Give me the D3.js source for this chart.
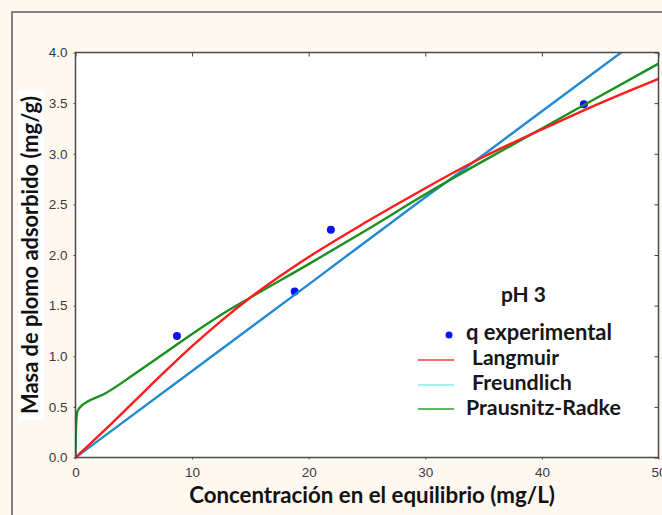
<!DOCTYPE html>
<html><head><meta charset="utf-8">
<script src="https://cdn.jsdelivr.net/npm/d3@7"></script>
<style>html,body{margin:0;padding:0;background:#fef8f0;}svg{display:block;}</style>
</head><body>
<svg id="chart" width="662" height="515"></svg>
<script>
// ---- data ----
const xTicks = [0, 10, 20, 30, 40, 50];
const yTicks = [0.0, 0.5, 1.0, 1.5, 2.0, 2.5, 3.0, 3.5, 4.0];
const expC = [8.7, 18.8, 21.9, 43.6];
const expQ = [1.20, 1.64, 2.25, 3.49];
const langC = [0, 2.5, 5, 7.5, 10, 12.5, 15, 20, 25, 30, 35, 40, 45, 50];
const langQ = [0, 0.27, 0.55, 0.83, 1.10, 1.35, 1.58, 1.98, 2.33, 2.66, 2.97, 3.24, 3.50, 3.74];
const freuC = [0, 10, 20, 30, 35, 40, 47.5];
const freuQ = [0, 0.855, 1.71, 2.57, 2.99, 3.42, 4.06];
const prC = [0, 0.05, 0.15, 0.5, 1, 2.5, 5, 7.5, 10, 12.5, 15, 20, 25, 30, 35, 40, 45, 50];
const prQ = [0, 0.30, 0.45, 0.51, 0.55, 0.63, 0.82, 1.02, 1.22, 1.41, 1.58, 1.91, 2.25, 2.60, 2.93, 3.25, 3.57, 3.89];
const legendLabels = ["q experimental", "Langmuir", "Freundlich", "Prausnitz-Radke"];
const legendTitle = "pH 3";
const xTitle = "Concentración en el equilibrio (mg/L)";
const yTitle = "Masa de plomo adsorbido (mg/g)";

const svg = d3.select("#chart");
const L = 75.5, R = 658.5, T = 52.5, B = 457.5;
const x = d3.scaleLinear().domain([0, 50]).range([L, R]);
const y = d3.scaleLinear().domain([0, 4]).range([B, T]);

// outer frame
svg.append("rect").attr("x", 0).attr("y", 0).attr("width", 662).attr("height", 515).attr("fill", "#fef8f0");
svg.append("rect").attr("x", 12).attr("y", 12).attr("width", 700).attr("height", 600)
  .attr("fill", "none").attr("stroke", "#5a5a5a").attr("stroke-width", 1.5);

// plot area
svg.append("rect").attr("x", L).attr("y", T).attr("width", R - L).attr("height", B - T).attr("fill", "#ffffff");

svg.append("defs").append("clipPath").attr("id", "clip")
  .append("rect").attr("x", L).attr("y", T).attr("width", R - L).attr("height", B - T);

const fmt = d3.format(".1f");
const tickFont = "Liberation Sans, Arial, sans-serif";

const gl = svg.append("g").attr("transform", `translate(${L},0)`)
  .call(d3.axisLeft(y).tickValues(yTicks).tickSize(2).tickPadding(6).tickFormat(fmt));
const gb = svg.append("g").attr("transform", `translate(0,${B})`)
  .call(d3.axisBottom(x).tickValues(xTicks).tickSize(2).tickPadding(8).tickFormat(d3.format("d")));
const gt = svg.append("g").attr("transform", `translate(0,${T})`)
  .call(d3.axisTop(x).tickValues(xTicks).tickSize(-4).tickFormat(""));
const gr = svg.append("g").attr("transform", `translate(${R},0)`)
  .call(d3.axisRight(y).tickValues(yTicks).tickSize(-4).tickFormat(""));
[gl, gb, gt, gr].forEach(g => {
  g.select(".domain").remove();
  g.selectAll(".tick line").attr("stroke", "#444").attr("stroke-width", 1);
  g.selectAll(".tick text").attr("font-family", tickFont).attr("font-size", 13.5).attr("fill", "#3a3a3a");
});

// data points (drawn beneath curves)
const pts = expC.map((c, i) => ({c, q: expQ[i]}));
svg.append("g").attr("clip-path", "url(#clip)").selectAll("circle").data(pts).join("circle")
  .attr("cx", d => x(d.c)).attr("cy", d => y(d.q)).attr("r", 4).attr("fill", "#0a14f0");

const line = d3.line().x(d => x(d[0])).y(d => y(d[1])).curve(d3.curveMonotoneX);
const curves = [
  {c: freuC, q: freuQ, color: "#2289d2"},
  {c: prC, q: prQ, color: "#1a9020"},
  {c: langC, q: langQ, color: "#ff1c1c"}
];
const cg = svg.append("g").attr("clip-path", "url(#clip)");
curves.forEach(s => {
  cg.append("path").datum(s.c.map((c, i) => [c, s.q[i]]))
    .attr("d", line).attr("fill", "none").attr("stroke", s.color).attr("stroke-width", 2.4);
});

// plot border
svg.append("rect").attr("x", L).attr("y", T).attr("width", R - L).attr("height", B - T)
  .attr("fill", "none").attr("stroke", "#4a4a4a").attr("stroke-width", 1.5);

// helper to fit bold text to target width
const titleFont = "Lato, 'Open Sans', sans-serif";
function fitText(sel, target, base) {
  sel.attr("font-size", base);
  const w = sel.node().getComputedTextLength();
  sel.attr("font-size", base * target / w);
  return sel;
}

// y title with white background
svg.append("rect").attr("x", 18).attr("y", 90).attr("width", 26).attr("height", 330).attr("fill", "#ffffff");
const yt = svg.append("text").attr("transform", "translate(38,255) rotate(-90)")
  .attr("text-anchor", "middle").attr("font-family", titleFont).attr("font-weight", 700)
  .attr("fill", "#111").text(yTitle);
fitText(yt, 318, 17);

// x title
const xt = svg.append("text").attr("x", 372).attr("y", 503)
  .attr("text-anchor", "middle").attr("font-family", titleFont).attr("font-weight", 700)
  .attr("fill", "#111").text(xTitle);
fitText(xt, 366, 18);

// legend
const lg = svg.append("g").attr("font-family", titleFont).attr("font-weight", 700).attr("fill", "#161616");
fitText(lg.append("text").attr("x", 501).attr("y", 302).text(legendTitle), 45, 16);
lg.append("circle").attr("cx", 449).attr("cy", 335).attr("r", 3.5).attr("fill", "#0a14f0");
const legY = [340, 365, 390, 415];
const legX = [466, 472, 472, 466];
const legW = [146, 87, 100, 155];
const legLine = [null, "#ff3a3a", "#80ecec", "#2aa02a"];
const lineY = [0, 360, 385, 409];
legendLabels.forEach((t, i) => {
  fitText(lg.append("text").attr("x", legX[i]).attr("y", legY[i]).text(t), legW[i], 16);
  if (legLine[i]) {
    lg.append("line").attr("x1", 418).attr("x2", 454).attr("y1", lineY[i]).attr("y2", lineY[i])
      .attr("stroke", legLine[i]).attr("stroke-width", 1.6);
  }
});
</script>
</body></html>
